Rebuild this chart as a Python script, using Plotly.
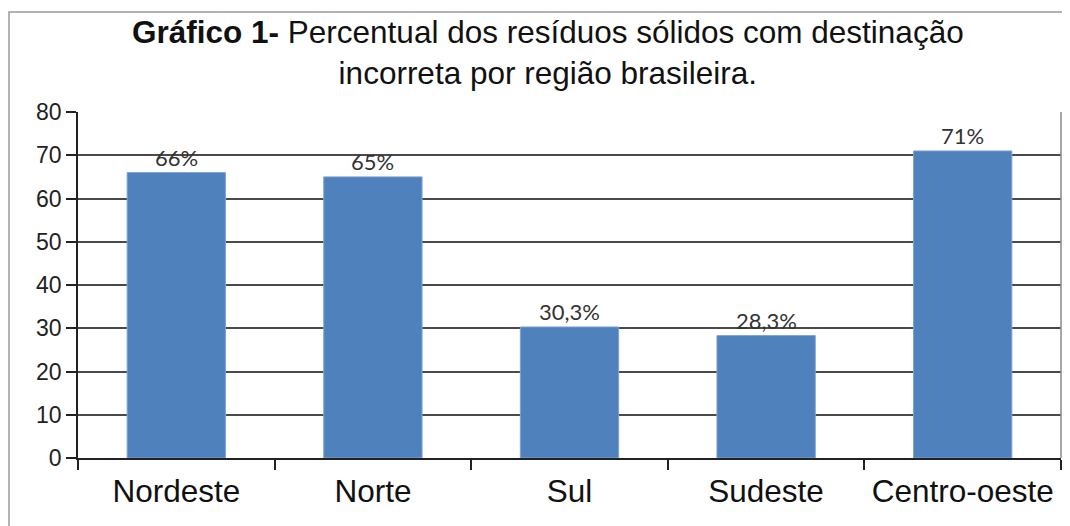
import plotly.graph_objects as go

categories = ["Nordeste", "Norte", "Sul", "Sudeste", "Centro-oeste"]
values = [66, 65, 30.3, 28.3, 71]
labels = ["66%", "65%", "30,3%", "28,3%", "71%"]
y_ticks = [0, 10, 20, 30, 40, 50, 60, 70, 80]

# page body has an 8px margin: figure is drawn from (8, 8)
W, H = 1062, 518
L, R, T, B = 70, 9, 104, 68
pw, ph = W - L - R, H - T - B

fig = go.Figure()
fig.add_trace(go.Bar(
    x=categories, y=values,
    marker=dict(color="#4F81BD", line=dict(color="#7FA3D1", width=1)),
))
for c, v, t in zip(categories, values, labels):
    fig.add_annotation(x=c, y=v, text=t, showarrow=False, yanchor="bottom",
                       yshift=0, font=dict(family="Lato", size=22, color="#333333"))

fig.update_layout(
    width=W, height=H,
    margin=dict(l=L, r=R, t=T, b=B, autoexpand=False),
    paper_bgcolor="white", plot_bgcolor="white",
    bargap=0.5, showlegend=False,
    font=dict(family="Liberation Sans, Arial", color="#111111"),
)
fig.update_xaxes(
    type="category", tickson="boundaries", ticks="outside", ticklen=10,
    tickcolor="#222222", tickwidth=1.5, automargin=False, tickangle=0,
    ticklabelstandoff=4,
    showline=True, linecolor="#222222", linewidth=1.5,
    tickfont=dict(family="Liberation Sans, Arial", size=31.5, color="#111111"),
    showgrid=False,
)
fig.update_yaxes(
    range=[0, 80], tickvals=y_ticks, ticks="outside", ticklen=10,
    tickcolor="#222222", tickwidth=1.5, automargin=False,
    showline=True, linecolor="#222222", linewidth=1.5,
    showgrid=True, gridcolor="#4a4a4a", gridwidth=1.5,
    zeroline=False,
    tickfont=dict(family="Liberation Sans, Arial", size=23, color="#222222"),
)

# right border of the plot area
fig.add_shape(type="line", xref="paper", yref="paper", x0=1, x1=1, y0=0, y1=1,
              line=dict(color="#8a8a8a", width=1.5))
# outer frame
fig.add_shape(type="rect", xref="paper", yref="paper",
              x0=(1 - L) / pw, x1=1.2, y0=-(B + 30) / ph, y1=(H - B - 4) / ph,
              line=dict(color="#999999", width=1.5))

fig.add_annotation(
    xref="paper", yref="paper", x=(540 - L) / pw, y=(H - B - 4) / ph,
    xanchor="center", yanchor="top", align="center", showarrow=False,
    text="<b>Gráfico 1-</b> Percentual dos resíduos sólidos com destinação<br>incorreta por região brasileira.",
    font=dict(family="Liberation Sans, Arial", size=31.5, color="#111111"),
)

fig.write_html("out.html")
